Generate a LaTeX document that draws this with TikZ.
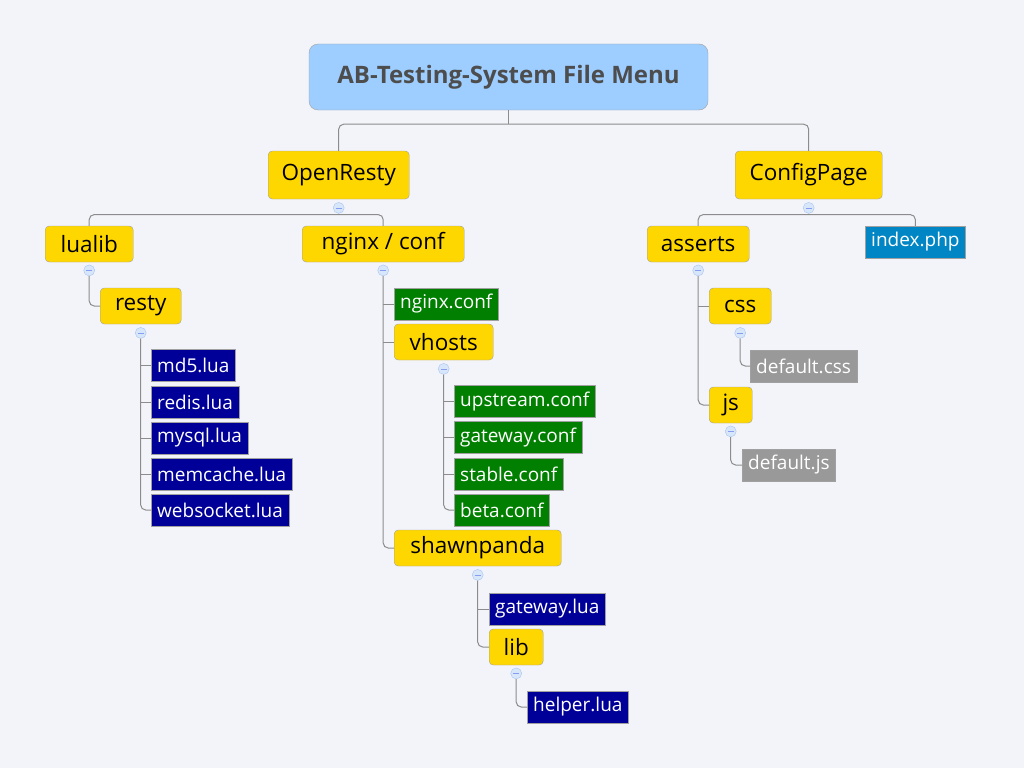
\documentclass[tikz,border=0pt]{standalone}
\usepackage{fontspec}
\setmainfont{Open Sans}
\usetikzlibrary{positioning}
\definecolor{bgpaper}{HTML}{F3F4FA}
\definecolor{titleblue}{HTML}{9ECEFF}
\definecolor{titletext}{HTML}{4D4D4D}
\definecolor{folderyellow}{HTML}{FFD700}
\definecolor{boxline}{HTML}{A0A0A0}
\definecolor{branchline}{HTML}{8C8C8C}
\definecolor{luablue}{HTML}{000099}
\definecolor{confgreen}{HTML}{007F00}
\definecolor{phpblue}{HTML}{0086C4}
\definecolor{staticgray}{HTML}{999999}
\definecolor{foldfill}{HTML}{D8E6FA}
\definecolor{foldline}{HTML}{A8C4EE}
\tikzset{
  folder/.style={draw=boxline,fill=folderyellow,rounded corners=4pt,anchor=west,
    minimum height=36pt,inner xsep=6pt,font=\fontsize{22.5}{22.5}\selectfont},
  file/.style={draw=boxline,anchor=west,text=white,minimum height=32pt,
    inner xsep=6pt,font=\fontsize{19}{19}\selectfont},
  luafile/.style={file,fill=luablue},
  conffile/.style={file,fill=confgreen},
  phpfile/.style={file,fill=phpblue},
  staticfile/.style={file,fill=staticgray},
  fold/.style={circle,draw=foldline,fill=foldfill,inner sep=0pt,minimum size=11pt,
    path picture={\draw[foldline!80!blue,line width=0.8pt]
      ([xshift=-2.8pt]path picture bounding box.center)--([xshift=2.8pt]path picture bounding box.center);}},
  branch/.style={draw=branchline,line width=1pt,rounded corners=5pt}
}
\begin{document}
\begin{tikzpicture}[x=1pt,y=-1pt]
\fill[bgpaper](0,0)rectangle(1024,768);
\useasboundingbox(0,0)rectangle(1024,768);
% root
\node[draw=boxline,fill=titleblue,rounded corners=9pt,minimum width=399pt,minimum height=66pt,
  text=titletext,font=\fontsize{24}{24}\selectfont\bfseries](title)at(508.5,77){AB-Testing-System File Menu};
\node[folder,minimum height=48pt,minimum width=141pt](open)at(268,175){OpenResty};
\node[folder,minimum height=48pt,minimum width=147pt](config)at(735,175){ConfigPage};
% OpenResty
\node[folder,minimum width=88pt](lualib)at(45,244){lualib};
\node[folder,minimum width=162pt](nginx)at(302,244){nginx / conf};
\node[folder,minimum width=81pt](resty)at(100,306){resty};
\node[luafile](md5)at(151,365){md5.lua};
\node[luafile](redis)at(151,402){redis.lua};
\node[luafile](mysql)at(151,438){mysql.lua};
\node[luafile](memcache)at(151,474){memcache.lua};
\node[luafile](websocket)at(151,510){websocket.lua};
\node[conffile](nginxconf)at(394,304){nginx.conf};
\node[folder,minimum width=99pt](vhosts)at(394,342){vhosts};
\node[conffile](upstream)at(454,401.5){upstream.conf};
\node[conffile](gateway)at(454,437.5){gateway.conf};
\node[conffile](stable)at(454,474){stable.conf};
\node[conffile](beta)at(454,510){beta.conf};
\node[folder,minimum width=167pt](shawn)at(394,548){shawnpanda};
\node[luafile](gatewaylua)at(489,609){gateway.lua};
\node[folder,minimum width=54pt](lib)at(489,647){lib};
\node[luafile](helper)at(527,707){helper.lua};
% ConfigPage
\node[folder,minimum width=102pt](asserts)at(647,244){asserts};
\node[phpfile](index)at(865,242){index.php};
\node[folder,minimum width=62pt](css)at(709,306){css};
\node[staticfile](defcss)at(750,366){default.css};
\node[folder,minimum width=43pt](js)at(709,405){js};
\node[staticfile](defjs)at(742,465){default.js};
% collapse marks
\node[fold,below=3pt of open](mopen){};
\node[fold,below=3pt of config](mconfig){};
\node[fold,below=2.5pt of lualib](mlualib){};
\node[fold,below=2.5pt of nginx](mnginx){};
\node[fold,below=3pt of resty](mresty){};
\node[fold,below=3pt of vhosts](mvhosts){};
\node[fold,below=3pt of shawn](mshawn){};
\node[fold,below=2.5pt of lib](mlib){};
\node[fold,below=2.5pt of asserts](masserts){};
\node[fold,below=3pt of css](mcss){};
\node[fold,below=2.5pt of js](mjs){};
% branches
\draw[branch](title.south)--++(0,14);
\draw[branch](open.north)|-([yshift=-14pt]title.south)-|(config.north);
\draw[branch](mopen.south)--++(0,1);
\draw[branch](lualib.north)|-([yshift=-1pt]mopen.south)-|(nginx.north);
\draw[branch](mconfig.south)--++(0,1);
\draw[branch](asserts.north)|-([yshift=-1pt]mconfig.south)-|(index.north);
\draw[branch](mlualib.south)|-(resty.west);
\draw[branch](mresty.south)|-(websocket.west);
\foreach \f in {md5,redis,mysql,memcache}
  \draw[branch](mresty.south|-\f.west)--(\f.west);
\draw[branch](mnginx.south)|-(shawn.west);
\foreach \f in {nginxconf,vhosts}
  \draw[branch](mnginx.south|-\f.west)--(\f.west);
\draw[branch](mvhosts.south)|-(beta.west);
\foreach \f in {upstream,gateway,stable}
  \draw[branch](mvhosts.south|-\f.west)--(\f.west);
\draw[branch](mshawn.south)|-(lib.west);
\draw[branch](mshawn.south|-gatewaylua.west)--(gatewaylua.west);
\draw[branch](mlib.south)|-(helper.west);
\draw[branch](masserts.south)|-(js.west);
\draw[branch](masserts.south|-css.west)--(css.west);
\draw[branch](mcss.south)|-(defcss.west);
\draw[branch](mjs.south)|-(defjs.west);
\end{tikzpicture}
\end{document}
